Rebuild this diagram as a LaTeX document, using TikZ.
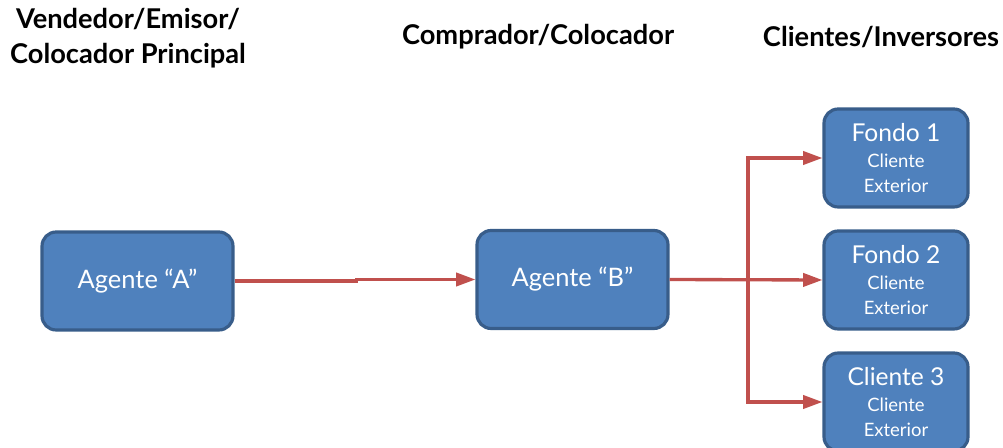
\documentclass[tikz,border=0pt]{standalone}
\usepackage{fontspec}
\setmainfont{Lato}
\usetikzlibrary{positioning,arrows.meta}
\definecolor{boxblue}{HTML}{4F81BD}
\definecolor{boxedge}{HTML}{385D8A}
\definecolor{linered}{HTML}{C0504D}
\tikzset{
	agentbox/.style={draw=boxedge,line width=1.8pt,fill=boxblue,rounded corners=8pt,
		text=white,minimum width=3.82cm,minimum height=1.96cm,align=center,font=\fontsize{14.5}{17}\selectfont},
	clientbox/.style={agentbox,minimum width=2.88cm,font=\fontsize{14}{15}\selectfont,text depth=-3pt},
	flow/.style={draw=linered,line width=1.9pt,-{Triangle[length=11pt,width=7.5pt]}},
	heading/.style={font=\bfseries\fontsize{15.5}{20}\selectfont,align=center}
}
\newcommand{\subsize}{\fontsize{10.5}{12}\selectfont}
\begin{document}
\begin{tikzpicture}[x=0.02cm,y=-0.02cm]
		\useasboundingbox (0,0) rectangle (1003,448);
		\node[heading] (tVend) at (128,38) {Vendedor/Emisor/\\Colocador Principal};
		\node[heading] (tComp) at (538,37) {Comprador/Colocador};
		\node[heading] (tClie) at (881,37) {Clientes/Inversores};
		\node[agentbox] (agenteA) at (137.5,281) {Agente ``A''};
		\node[agentbox] (agenteB) at (572.5,279.5) {Agente ``B''};
		\node[clientbox] (fondoUno) at (896,158) {Fondo 1\\\subsize Cliente\\[-1pt]\subsize Exterior};
		\node[clientbox] (fondoDos) at (896,280) {Fondo 2\\\subsize Cliente\\[-1pt]\subsize Exterior};
		\node[clientbox] (clienteTres) at (896,402) {Cliente 3\\\subsize Cliente\\[-1pt]\subsize Exterior};
		\coordinate (split) at (748,280);
		\draw[flow] (agenteA.east) -- ++(122,0) |- (agenteB.west);
		\draw[flow] (agenteB.east) -- (fondoDos.west);
		\draw[flow] (split) |- (fondoUno.west);
		\draw[flow] (split) |- (clienteTres.west);
\end{tikzpicture}
\end{document}
